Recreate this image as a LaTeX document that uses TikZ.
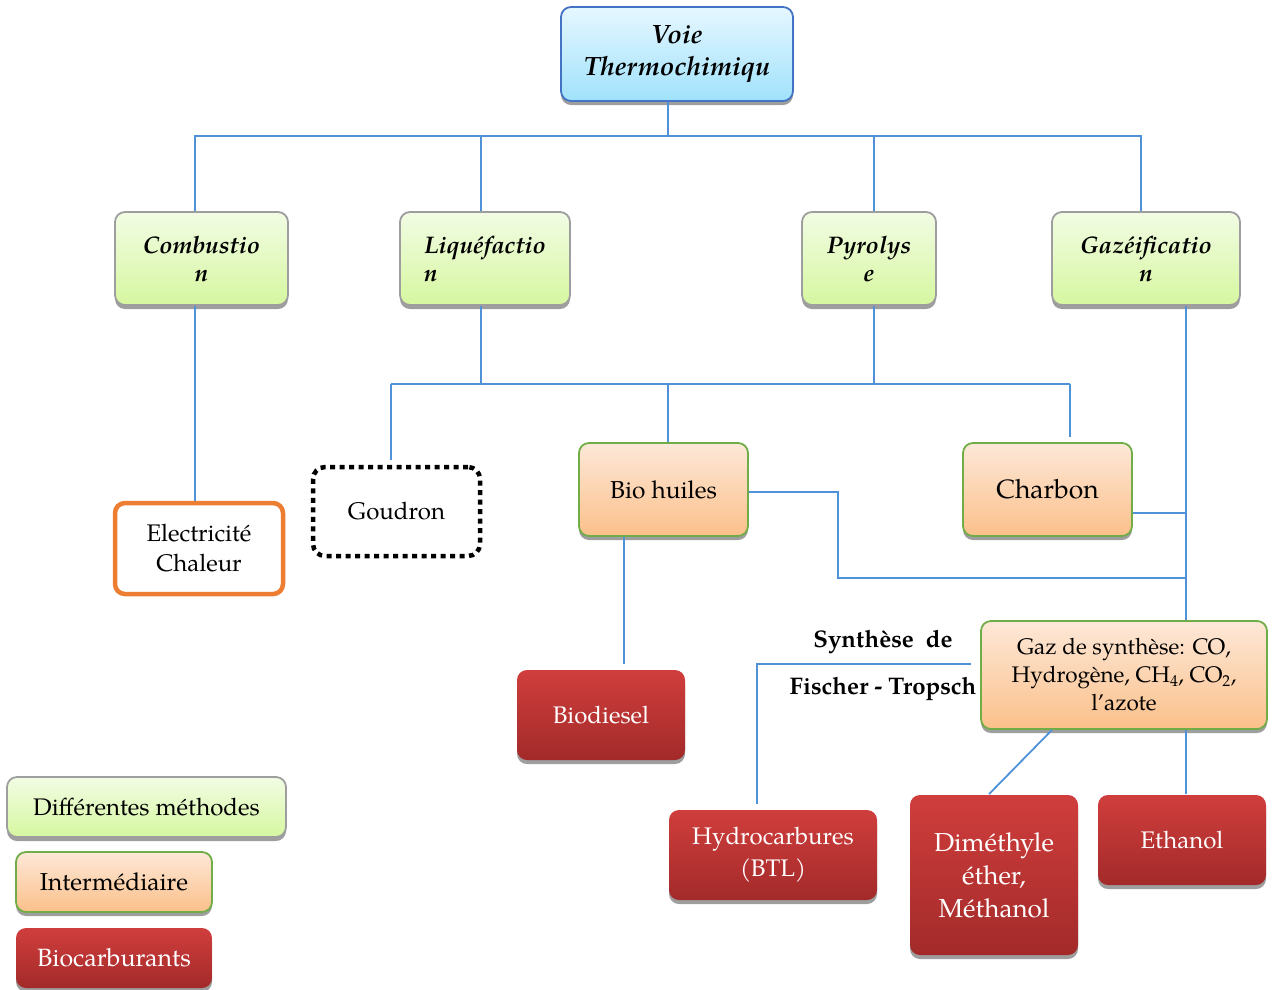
\documentclass[tikz,border=0pt]{standalone}
\usepackage{fontspec}
\setmainfont{TeX Gyre Pagella}
\usetikzlibrary{shadows}
\definecolor{linkblue}{RGB}{79,146,216}
\definecolor{greentop}{RGB}{242,252,228}
\definecolor{greenbot}{RGB}{214,247,160}
\definecolor{orangetop}{RGB}{253,232,216}
\definecolor{orangebot}{RGB}{251,192,138}
\definecolor{redtop}{RGB}{207,62,60}
\definecolor{redbot}{RGB}{163,42,42}
\definecolor{bluetop}{RGB}{230,247,255}
\definecolor{bluebot}{RGB}{160,226,252}
\definecolor{boxgreen}{RGB}{112,173,71}
\definecolor{boxblue}{RGB}{68,114,196}
\definecolor{boxorange}{RGB}{237,125,49}
\tikzset{
  link/.style={draw=linkblue, line width=1.8pt},
  box/.style={rounded corners=10pt, line width=1.8pt, inner sep=4pt,
              drop shadow={shadow xshift=0pt, shadow yshift=-4pt, fill=black!38, opacity=1}},
  topbox/.style={box, draw=boxblue, top color=bluetop, bottom color=bluebot,
                 font=\fontsize{26.5}{32}\selectfont\bfseries\itshape, align=center},
  methodbox/.style={box, draw=black!38, top color=greentop, bottom color=greenbot,
                    font=\fontsize{24}{28}\selectfont\bfseries\itshape},
  interbox/.style={box, draw=boxgreen, top color=orangetop, bottom color=orangebot,
                   font=\fontsize{24.5}{28}\selectfont, align=center},
  fuelbox/.style={box, draw=none, top color=redtop, bottom color=redbot, text=white,
                  font=\fontsize{24}{32}\selectfont, align=center},
  legendbox/.style={minimum height=60pt, font=\fontsize{24}{28}\selectfont},
  fischer/.style={font=\fontsize{24}{26}\selectfont\bfseries}
}
\begin{document}
\begin{tikzpicture}[x=1pt, y=-1pt]
  \useasboundingbox (0,0) rectangle (1274,989);

  \node[topbox, minimum width=232pt, minimum height=94pt] (voie) at (677,54) {Voie\\Thermochimiqu};

  \node[methodbox, align=center, minimum width=173pt, minimum height=93pt] (comb) at (201.5,258.5) {Combustio\\n};
  \node[methodbox, align=left, minimum width=170pt, minimum height=93pt] (liq) at (485,258.5) {Liquéfactio\\n};
  \node[methodbox, align=center, minimum width=134pt, minimum height=93pt] (pyro) at (869,258.5) {Pyrolys\\e};
  \node[methodbox, align=center, minimum width=188pt, minimum height=93pt] (gazei) at (1146,258.5) {Gazéificatio\\n};

  \node[draw=boxorange, line width=4.5pt, rounded corners=10pt, fill=white, align=center,
        font=\fontsize{24}{30}\selectfont, minimum width=168pt, minimum height=91pt] (elec) at (199,548.5) {Electricité\\Chaleur};
  \node[draw=black, line width=4.5pt, dash pattern=on 5pt off 4.5pt, rounded corners=12pt,
        font=\fontsize{24}{28}\selectfont, minimum width=167pt, minimum height=89pt] (goud) at (396.5,511.5) {Goudron};
  \node[interbox, minimum width=169pt, minimum height=93pt] (bioh) at (663.5,489.5) {Bio huiles};
  \node[interbox, minimum width=169pt, minimum height=93pt, font=\fontsize{26.5}{30}\selectfont] (charb) at (1047.5,489.5) {Charbon};
  \node[interbox, minimum width=286pt, minimum height=108pt, font=\fontsize{22.5}{28}\selectfont] (gazsyn) at (1124,675)
       {Gaz de synthèse: CO,\\Hydrogène, CH\textsubscript{4}, CO\textsubscript{2},\\l’azote};

  \node[fuelbox, minimum width=168pt, minimum height=90pt] (biod) at (601,715) {Biodiesel};
  \node[fuelbox, minimum width=208pt, minimum height=90pt] (hydro) at (773,855) {Hydrocarbures\\(BTL)};
  \node[fuelbox, minimum width=168pt, minimum height=160pt, font=\fontsize{26}{33}\selectfont] (dme) at (994,875) {Diméthyle\\éther,\\Méthanol};
  \node[fuelbox, minimum width=168pt, minimum height=90pt] (etha) at (1182,840) {Ethanol};

  \node[fischer] (syn) at (883,642) {Synthèse\ \ de};
  \node[fischer] (ft) at (883,689) {Fischer - Tropsch};

  \node[methodbox, legendbox, font=\fontsize{24}{28}\selectfont, minimum width=279pt] (leg1) at (146.5,807) {Différentes méthodes};
  \node[interbox, legendbox, font=\fontsize{24.5}{28}\selectfont, minimum width=196pt] (leg2) at (114,882) {Intermédiaire};
  \node[fuelbox, legendbox, font=\fontsize{25}{28}\selectfont, minimum width=196pt] (leg3) at (114,958) {Biocarburants};

  \coordinate (top) at (668,136);
  \coordinate (jcomb) at (195,300);
  \coordinate (jliq) at (481,300);
  \coordinate (jpyro) at (874,300);
  \coordinate (jgaz) at (1141,300);
  \coordinate (jg) at (391,384);
  \coordinate (jb) at (668,384);
  \coordinate (jc) at (1070,384);
  \coordinate (tr) at (1186,300);
  \coordinate (bend) at (838,578);
  \coordinate (bd) at (624,600);
  \coordinate (fisch) at (757,664);
  \coordinate (ce) at ([yshift=-23.5pt]charb.east);

  \draw[link] (top |- voie.south) -- (top);
  \draw[link] (jcomb |- comb.north) |- (top) -| (jgaz |- gazei.north);
  \draw[link] (jliq |- liq.north) -- (jliq |- top);
  \draw[link] (jpyro |- pyro.north) -- (jpyro |- top);
  \draw[link] (jcomb |- comb.south) -- (jcomb |- elec.north);
  \draw[link] (jg) -- (jc);
  \draw[link] (jliq |- liq.south) -- (jliq |- jb);
  \draw[link] (jpyro |- pyro.south) -- (jpyro |- jb);
  \draw[link, shorten >=5pt] (jg) -- (jg |- goud.north);
  \draw[link] (jb) -- (jb |- bioh.north);
  \draw[link, shorten >=5pt] (jc) -- (jc |- charb.north);
  \draw[link] (gazei.south -| tr) -- (tr |- gazsyn.north);
  \draw[link] (ce) -- (ce -| tr);
  \draw[link] ([yshift=-2.5pt]bioh.east) -| (bend) -- (bend -| tr);
  \draw[link, shorten >=5pt] (bioh.south -| bd) -- (bd |- biod.north);
  \draw[link, shorten <=9pt, shorten >=5pt] (gazsyn.west |- fisch) -| (fisch |- hydro.north);
  \draw[link] ([xshift=-72pt]gazsyn.south) -- ([xshift=-5pt]dme.north);
  \draw[link] (gazsyn.south -| tr) -- (tr |- etha.north);
\end{tikzpicture}
\end{document}
